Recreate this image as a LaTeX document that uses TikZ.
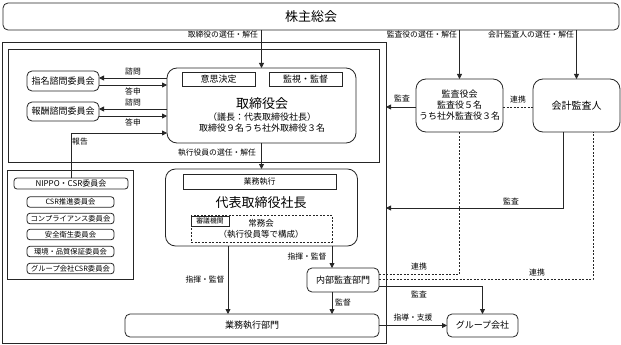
\documentclass[tikz,border=0pt]{standalone}
\usepackage{fontspec}
\setmainfont{Noto Sans CJK JP}
\usetikzlibrary{arrows.meta}
\begin{document}
\begin{tikzpicture}[x=1pt,y=-1pt,
  every node/.style={inner sep=0pt,outer sep=0pt},
  ln/.style={draw=black!85,line width=0.8pt},
  rbox/.style={ln,rectangle,rounded corners=#1,fill=white},
  rbox/.default=5pt,
  sbox/.style={ln,rectangle,fill=white},
  dbox/.style={draw=black!85,line width=0.8pt,dash pattern=on 2pt off 1.5pt},
  arr/.style={ln,-{Triangle[length=5pt,width=5pt]}},
  dsh/.style={draw=black!85,line width=0.8pt,dash pattern=on 2pt off 1.5pt},
  lbl/.style={font=\fontsize{7.8}{9}\selectfont},
  fa/.style={font=\fontsize{13}{15}\selectfont},
  fb/.style={font=\fontsize{9}{11}\selectfont},
  fc/.style={font=\fontsize{8}{10}\selectfont},
  fd/.style={font=\fontsize{7.3}{9}\selectfont},
]
\useasboundingbox (0,0) rectangle (621,345);

% containers
\node[rbox=5pt, minimum width=616pt, minimum height=27pt, fa] (top) at (311,16.5) {株主総会};
\node[sbox, minimum width=384pt, minimum height=301pt] (outer) at (194,192.5) {};
\node[sbox, minimum width=371pt, minimum height=113pt] (inner) at (193.5,105.5) {};

% board
\node[rbox=10pt, minimum width=189pt, minimum height=75pt] (bod) at (261.5,105.5) {};
\node[sbox, minimum width=73pt, minimum height=14pt, fb] (ishi) at (218.5,79) {意思決定};
\node[sbox, minimum width=73pt, minimum height=14pt, fb] (kanshi) at (305.5,79) {監視・監督};
\node[fa] (bodt) at (262,104) {取締役会};
\node[fb] (bodc) at (262,117) {（議長：代表取締役社長）};
\node[fb] (bodn) at (262,128) {取締役９名うち社外取締役３名};

% advisory committees
\node[rbox=5pt, minimum width=72pt, minimum height=20pt, fb] (shimei) at (63,81) {指名諮問委員会};
\node[rbox=5pt, minimum width=72pt, minimum height=19pt, fb] (houshu) at (63,111.5) {報酬諮問委員会};
\draw[arr] (bod.west |- 0,78) -- (shimei.east |- 0,78);
\draw[arr] (shimei.east |- 0,85) -- (bod.west |- 0,85);
\draw[arr] (bod.west |- 0,109) -- (houshu.east |- 0,109);
\draw[arr] (houshu.east |- 0,116) -- (bod.west |- 0,116);
\node[lbl] (l1) at (133,72) {諮問};
\node[lbl] (l2) at (133,91) {答申};
\node[lbl] (l3) at (133,103) {諮問};
\node[lbl] (l4) at (133,122) {答申};

% representative director
\node[rbox=10pt, minimum width=192pt, minimum height=77pt] (rep) at (261.5,207.5) {};
\node[sbox, minimum width=153pt, minimum height=15pt, fc] (gyo) at (259.5,181.5) {業務執行};
\node[fa] (rept) at (261,203) {代表取締役社長};
\node[dbox, minimum width=141pt, minimum height=27pt] (jomu) at (261.5,228.5) {};
\node[sbox, minimum width=38pt, minimum height=10pt, font=\fontsize{6.8}{8}\selectfont] (shingi) at (210,221) {審議機関};
\node[font=\fontsize{8.5}{11}\selectfont, align=center] (jomut) at (261,228.5) {常務会\\（執行役員等で構成）};

% NIPPO CSR
\node[sbox, minimum width=126pt, minimum height=109pt] (nip) at (70,224.5) {};
\node[rbox=3pt, minimum width=114pt, minimum height=11pt, fc] (niph) at (71,183.5) {NIPPO・CSR委員会};
\node[rbox=3pt, minimum width=87pt, minimum height=10.5pt, fd] (c1) at (70.5,202) {CSR推進委員会};
\node[rbox=3pt, minimum width=87pt, minimum height=10.5pt, fd] (c2) at (70.5,218.5) {コンプライアンス委員会};
\node[rbox=3pt, minimum width=87pt, minimum height=10.5pt, fd] (c3) at (70.5,234.5) {安全衛生委員会};
\node[rbox=3pt, minimum width=87pt, minimum height=10.5pt, fd] (c4) at (70.5,251.5) {環境・品質保証委員会};
\node[rbox=3pt, minimum width=87pt, minimum height=10.5pt, fd] (c5) at (70.5,268.5) {グループ会社CSR委員会};
\draw[arr] (niph.north) -- (niph.north |- 0,133) -- (bod.west |- 0,133);
\node[lbl] (l5) at (80,142) {報告};

% lower
\node[rbox=5pt, minimum width=72pt, minimum height=24pt, fb] (nb) at (343,280) {内部監査部門};
\node[rbox=5pt, minimum width=254pt, minimum height=23pt, fb] (jk) at (252,325.5) {業務執行部門};
\node[rbox=5pt, minimum width=71pt, minimum height=23pt, fb] (gr) at (482.5,325.5) {グループ会社};

% auditors
\node[rbox=10pt, minimum width=87pt, minimum height=53pt, fb, align=center] (ksy) at (459.5,105.5) {監査役会\\監査役５名\\うち社外監査役３名};
\node[rbox=10pt, minimum width=87pt, minimum height=53pt, font=\fontsize{10}{12}\selectfont] (kk) at (576.5,105.5) {会計監査人};

% from shareholders
\draw[arr] (top.south -| bod.north) -- (bod.north);
\draw[arr] (top.south -| ksy.north) -- (ksy.north);
\draw[arr] (top.south -| kk.north) -- (kk.north);
\node[lbl, anchor=east] (s1) at (258,35) {取締役の選任・解任};
\node[lbl, anchor=east] (s2) at (457,35) {監査役の選任・解任};
\node[lbl, anchor=east] (s3) at (574,35) {会計監査人の選任・解任};

% board -> rep
\draw[arr] (bod.south) -- (bod.south |- rep.north);
\node[lbl] (l6) at (217,153) {執行役員の選任・解任};

% auditor connections
\draw[arr] (ksy.west |- 0,107) -- (outer.east |- 0,107);
\node[lbl] (l7) at (402,98) {監査};
\draw[dsh] (ksy.east |- 0,107) -- (kk.west |- 0,107);
\node[lbl] (l8) at (518,100) {連携};
\coordinate (kx) at (563,0);
\coordinate (kd) at (593,0);
\draw[arr] (kk.south -| kx) -- (kx |- 0,208) -- (outer.east |- 0,208);
\node[lbl] (l9) at (511,201) {監査};
\draw[dsh] (nb.east |- 0,274) -- (ksy.south |- 0,274) -- (ksy.south);
\node[lbl] (l10) at (419,267) {連携};
\draw[dsh] (nb.east |- 0,279) -- (kd |- 0,279) -- (kk.south -| kd);
\node[lbl] (l11) at (537,273) {連携};

% execution lines
\coordinate (ax) at (228,0);
\coordinate (bx) at (332,0);
\draw[arr] (rep.south -| ax) -- (jk.north -| ax);
\node[lbl] (l12) at (205,280) {指揮・監督};
\draw[arr] (rep.south -| bx) -- (nb.north -| bx);
\node[lbl] (l13) at (307,257) {指揮・監督};
\draw[arr] (nb.south -| bx) -- (jk.north -| bx);
\node[lbl] (l14) at (343,303) {監督};
\draw[arr] (nb.east |- 0,286) -- (gr.north |- 0,286) -- (gr.north);
\node[lbl] (l15) at (419,294) {監査};
\draw[arr] (jk.east) -- (gr.west);
\node[lbl] (l16) at (413,318) {指導・支援};
\end{tikzpicture}
\end{document}
